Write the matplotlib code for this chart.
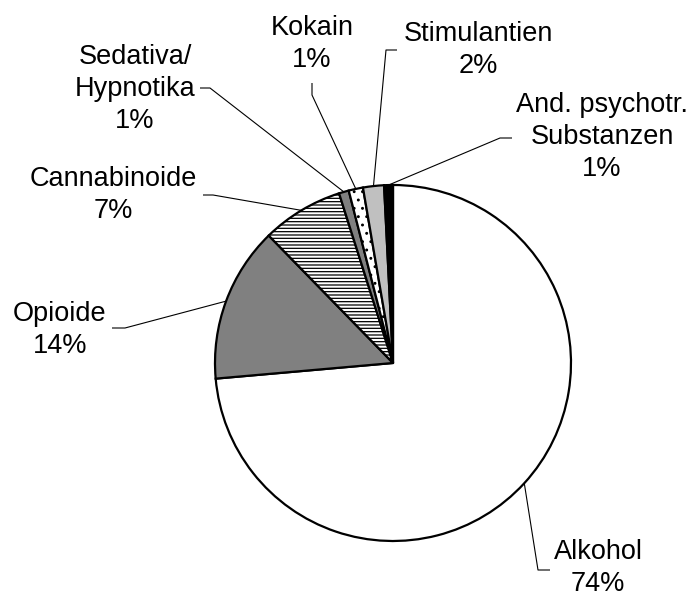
import matplotlib
matplotlib.use('Agg')
import matplotlib.pyplot as plt
import numpy as np

plt.rcParams['font.family'] = ['Liberation Sans', 'DejaVu Sans']
plt.rcParams['hatch.linewidth'] = 0.9

# data (percent)
labels = ['Alkohol', 'Opioide', 'Cannabinoide', 'Sedativa/\nHypnotika',
          'Kokain', 'Stimulantien', 'And. psychotr.\nSubstanzen']
values = [73.6, 14.1, 7.4, 0.9, 1.3, 1.9, 0.8]
colors = ['white', '#808080', 'white', '#808080', 'white', '#c0c0c0', 'black']
hatches = [None, None, '-----', None, '..', None, None]

# label layout in pixels (x, y from top): text centre, elbow, text-side end
text_pos = [(598, 568), (60, 330), (113, 195), (135, 89),
            (312, 44), (478, 50), (602, 137)]
elbows = [(538, 570), (125, 328), (213, 195), (210, 88),
          (312, 95), (386, 50), (500, 138)]
ends = [(550, 570), (112, 328), (203, 195), (200, 88),
        (312, 83), (397, 50), (512, 138)]

W, H = 693, 597
cx, cy, r = 393, 363, 178

fig = plt.figure(figsize=(W / 100, H / 100), dpi=100)
ax = fig.add_axes([0, 0, 1, 1])

wedges, _ = ax.pie(values, colors=colors, startangle=90, counterclock=False,
                   center=(cx, H - cy), radius=r,
                   wedgeprops=dict(edgecolor='black', linewidth=1.6))
for w, h in zip(wedges, hatches):
    if h:
        w.set_hatch(h)

ax.set_xlim(0, W)
ax.set_ylim(0, H)
ax.axis('off')

for w, lab, v, tp, el, en in zip(wedges, labels, values, text_pos, elbows, ends):
    mid = np.deg2rad((w.theta1 + w.theta2) / 2)
    px = cx + r * np.cos(mid)
    py = (H - cy) + r * np.sin(mid)
    ax.plot([px, el[0], en[0]], [py, H - el[1], H - en[1]],
            color='black', lw=0.8, solid_capstyle='butt')
    ax.text(tp[0], H - tp[1], '%s\n%d%%' % (lab, round(v)),
            ha='center', va='center', fontsize=19.5, linespacing=1.3,
            multialignment='center')

fig.savefig('out.png', dpi=100)
